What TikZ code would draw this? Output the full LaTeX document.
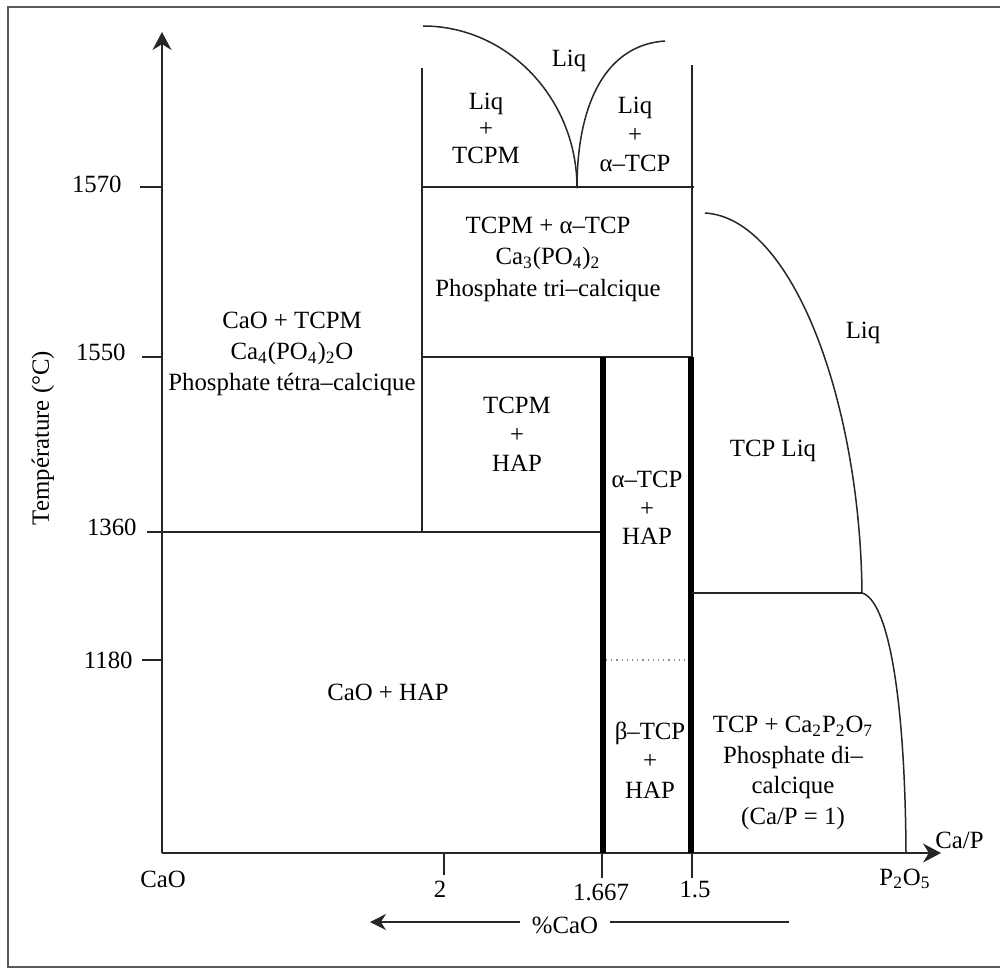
\documentclass[tikz,border=0pt]{standalone}
\usepackage{fontspec}
\setmainfont{Liberation Serif}
\usetikzlibrary{arrows.meta}
\begin{document}
\begin{tikzpicture}[x=0.5pt,y=-0.5pt,
  font=\fontsize{12.4}{15}\selectfont,
  bdry/.style={line width=0.75pt, draw=black!85},
  hvy/.style={line width=2.7pt, draw=black},
  lbl/.style={inner sep=0pt, text=black},
  blk/.style={align=center, inner sep=0pt, text=black},
  axarrow/.style={-{Stealth[length=9pt,width=9.5pt]}},
]
\useasboundingbox (0,0) rectangle (1000,970);
% frame
\draw[line width=1pt, draw=black!65] (1001,7) -- (8,7) -- (8,967) -- (1001,967);

% axes
\coordinate (O) at (162,853);
\coordinate (Ytip) at (162,32);
\coordinate (Xtip) at (941,853);
\draw[bdry, axarrow] (O) -- (Ytip);
\draw[bdry, axarrow] (O) -- (Xtip);

% y ticks and labels
\draw[bdry] (140,187) -- (162,187);
\draw[bdry] (142,357) -- (162,357);
\draw[bdry] (147,532) -- (603,532);
\draw[bdry] (142,660) -- (162,660);
\node[lbl, anchor=base east] (t1570) at (122,192) {1570};
\node[lbl, anchor=base east] (t1550) at (126,360) {1550};
\node[lbl, anchor=base east] (t1360) at (137,535) {1360};
\node[lbl, anchor=base east] (t1180) at (133,668) {1180};
\node[lbl, rotate=90] (ylab) at (43,438) {Température (°C)};

% x ticks and labels
\draw[bdry] (444,853) -- (444,875);
\draw[bdry] (602,853) -- (602,878);
\draw[bdry] (692,853) -- (692,878);
\node[lbl, anchor=base] (xcao) at (163,887) {CaO};
\node[lbl, anchor=base] (x2) at (440,897) {2};
\node[lbl, anchor=base] (x1667) at (601,900) {1.667};
\node[lbl, anchor=base] (x15) at (695,897) {1.5};
\node[lbl, anchor=base] (xp2o5) at (905,885) {P\textsubscript{2}O\textsubscript{5}};
\node[lbl, anchor=base west] (xcap) at (935,848) {Ca/P};

% %CaO arrow
\node[lbl, anchor=base, inner xsep=6pt] (pcao) at (565,933) {\%CaO};
\coordinate (pcaoL) at (370,922);
\coordinate (pcaoR) at (789,922);
\draw[bdry, -{Stealth[length=8pt,width=8pt]}] (pcao.west |- pcaoL) -- (pcaoL);
\draw[bdry] (pcao.east |- pcaoR) -- (pcaoR);

% phase boundaries
\draw[bdry] (422,68) -- (422,532);
\draw[bdry] (692,65) -- (692,357);
\draw[bdry] (422,187) -- (694,187);
\draw[bdry] (422,357) -- (692,357);
\draw[hvy] (603,357) -- (603,853);
\draw[hvy] (691,357) -- (691,853);
\draw[line width=0.6pt, draw=black!45, dotted] (606,660) -- (688,660);

% liquidus curves (top)
\coordinate (eut) at (577,188);
\draw[bdry] (423,26) .. controls (508,26) and (577,99) .. (eut);
\draw[bdry] (eut) .. controls (577,105) and (605,45) .. (665,41);

% right liquidus
\draw[bdry] (705,213) .. controls (792,218) and (860,400) .. (862,593);
\draw[bdry] (692,593) -- (862,593);
\draw[bdry] (862,593) .. controls (887,600) and (905,690) .. (906,853);

% region labels
\node[lbl, anchor=base] (liqtop) at (569,66) {Liq};
\node[blk, font=\fontsize{12.4}{13.5}\selectfont] (r1) at (486,128) {Liq\\+\\TCPM};
\node[blk, font=\fontsize{12.4}{14.5}\selectfont] (r2) at (635,134) {Liq\\+\\α–TCP};
\node[blk, font=\fontsize{12.4}{15.75}\selectfont] (r3) at (548,259) {TCPM + α–TCP\\Ca\textsubscript{3}(PO\textsubscript{4})\textsubscript{2}\\Phosphate tri–calcique};
\node[blk, font=\fontsize{12.4}{15.5}\selectfont] (r4) at (292,354) {CaO + TCPM\\Ca\textsubscript{4}(PO\textsubscript{4})\textsubscript{2}O\\Phosphate tétra–calcique};
\node[blk, font=\fontsize{12.4}{14.5}\selectfont] (r5) at (517,434) {TCPM\\+\\HAP};
\node[blk, font=\fontsize{12.4}{14.25}\selectfont] (r6) at (647,508) {α–TCP\\+\\HAP};
\node[blk, font=\fontsize{12.4}{14.75}\selectfont] (r7) at (650,760) {β–TCP\\+\\HAP};
\node[blk, font=\fontsize{12.4}{15.2}\selectfont] (r8) at (793,773) {TCP + Ca\textsubscript{2}P\textsubscript{2}O\textsubscript{7}\\Phosphate di–\\calcique\\(Ca/P = 1)};
\node[lbl, anchor=base] (liqr) at (863,338) {Liq};
\node[lbl, anchor=base] (tcpliq) at (773,456) {TCP Liq};
\node[lbl, anchor=base] (caohap) at (388,700) {CaO + HAP};
\end{tikzpicture}
\end{document}
